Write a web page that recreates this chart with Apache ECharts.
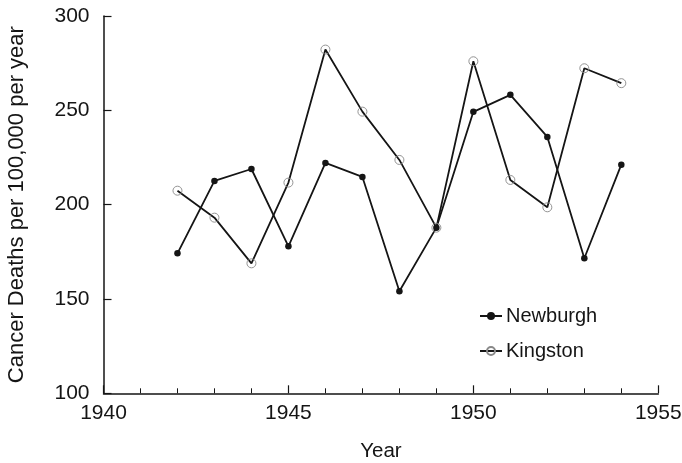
<!DOCTYPE html>
<html><head><meta charset="utf-8">
<script src="https://cdn.jsdelivr.net/npm/echarts@6/dist/echarts.min.js"></script>
<style>html,body{margin:0;padding:0;background:#fff}#c{width:682px;height:463px}</style>
</head><body><div id="c"></div>
<script>
const years = [1942,1943,1944,1945,1946,1947,1948,1949,1950,1951,1952,1953,1954];
const newburgh = [174.2,212.6,218.9,177.9,222.1,214.7,154.1,187.8,249.2,258.2,235.9,171.6,221.2];
const kingston = [207.4,193.1,168.9,211.7,282.2,249.3,223.7,187.8,276,213.1,198.6,272.3,264.4];
const xTicks = [1940,1945,1950,1955];
const yTicks = [100,150,200,250,300];

const font = 'Liberation Sans, Arial, Helvetica, sans-serif';
const ink = '#151515';
const chart = echarts.init(document.getElementById('c'), null, {renderer:'canvas'});
chart.setOption({
  animation:false,
  backgroundColor:'#fff',
  grid:{left:103.5,right:23.7,top:16,bottom:69.7,containLabel:false,outerBoundsMode:'none'},
  legend:{
    orient:'vertical', left:474, top:301, itemWidth:22, itemHeight:10, itemGap:15,
    textStyle:{fontFamily:font,fontSize:20,color:ink,padding:[0,0,0,-1]},
    data:['Newburgh','Kingston']
  },
  xAxis:{
    type:'value', min:xTicks[0], max:xTicks[xTicks.length-1], interval:5,
    name:'Year', nameLocation:'middle', nameGap:48,
    nameTextStyle:{fontFamily:font,fontSize:20.5,color:ink},
    axisLine:{lineStyle:{color:ink,width:1.5}},
    axisTick:{inside:true,length:8,lineStyle:{color:ink,width:1.2}},
    minorTick:{show:true,splitNumber:5,length:5,lineStyle:{color:ink,width:1}},
    axisLabel:{fontFamily:font,fontSize:21,color:ink,margin:9,formatter:v=>String(v)},
    splitLine:{show:false}
  },
  yAxis:{
    type:'value', min:yTicks[0], max:yTicks[yTicks.length-1], interval:50,
    name:'Cancer Deaths per 100,000 per year', nameLocation:'middle', nameGap:76,
    nameTextStyle:{fontFamily:font,fontSize:22,color:ink},
    axisLine:{show:true,lineStyle:{color:ink,width:1.5}},
    axisTick:{show:true,inside:true,length:8,lineStyle:{color:ink,width:1.2}},
    axisLabel:{fontFamily:font,fontSize:21,color:ink,margin:14},
    splitLine:{show:false}
  },
  series:[
    {name:'Newburgh',type:'line',data:years.map((y,i)=>[y,newburgh[i]]),
     symbol:'circle',symbolSize:6.5,
     itemStyle:{color:ink,borderColor:ink,borderWidth:0},
     lineStyle:{color:ink,width:1.8}},
    {name:'Kingston',type:'line',data:years.map((y,i)=>[y,kingston[i]]),
     symbol:'circle',symbolSize:9,
     itemStyle:{color:'rgba(255,255,255,0)',borderColor:'#888',borderWidth:0.9},
     lineStyle:{color:ink,width:1.8}}
  ]
});
</script></body></html>
